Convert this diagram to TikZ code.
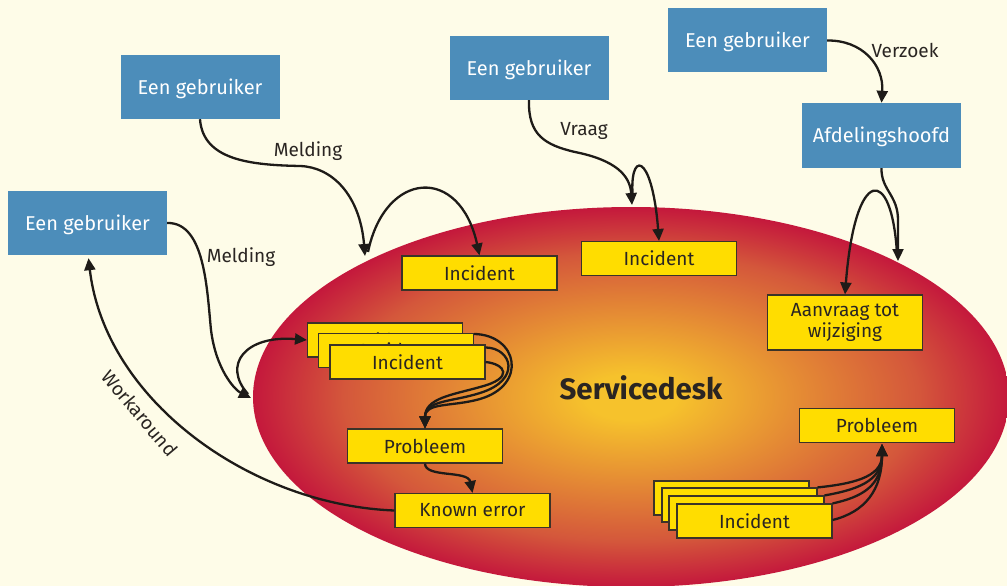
\documentclass[tikz,border=0pt]{standalone}
\usepackage{fontspec}
\setmainfont{Fira Sans}
\usetikzlibrary{arrows.meta,calc}
\definecolor{bgc}{HTML}{FEFCE8}
\definecolor{bluec}{HTML}{4C8DBA}
\definecolor{yelc}{HTML}{FFDD00}
\definecolor{ybord}{HTML}{3B3328}
\definecolor{arrc}{HTML}{1E1B18}
\definecolor{txtc}{HTML}{2A2522}
\definecolor{cIn}{HTML}{F6C22C}
\definecolor{cMidA}{HTML}{E58C34}
\definecolor{cMidB}{HTML}{D4573B}
\definecolor{cOut}{HTML}{C4183C}
\pgfdeclareradialshading{sdesk}{\pgfpoint{0bp}{0bp}}{color(0bp)=(cIn); color(3bp)=(cIn); color(11bp)=(cMidA); color(19bp)=(cMidB); color(25bp)=(cOut); color(50bp)=(cOut)}
\tikzset{
  txt/.style={font=\fontsize{19}{21}\selectfont, text=txtc},
  userbox/.style={fill=bluec, text=white, font=\fontsize{20}{22}\selectfont, minimum width=159pt, minimum height=64pt, inner sep=0pt, text depth=1pt},
  ybox/.style={fill=yelc, draw=ybord, line width=1.1pt, text=txtc, font=\fontsize{19}{21}\selectfont, minimum width=155pt, minimum height=34pt, inner sep=0pt},
  conn/.style={draw=arrc, line width=2.3pt, -{Triangle[length=12pt,width=11pt]}},
}
\begin{document}
\begin{tikzpicture}[x=1pt,y=-1pt]
\useasboundingbox (0,0) rectangle (1007,586);
\fill[bgc] (0,0) rectangle (1007,586);
\begin{scope}
\clip (0,0) rectangle (1007,586);
\shade[shading=sdesk] (631,397) ellipse [x radius=378, y radius=190];
\end{scope}
\node[font=\bfseries\fontsize{29.5}{31}\selectfont, text=txtc] (sd) at (641,388) {Servicedesk};

% user boxes
\node[userbox] (u1) at (200,87) {Een gebruiker};
\node[userbox] (u2) at (87.5,223) {Een gebruiker};
\node[userbox] (u3) at (529,68) {Een gebruiker};
\node[userbox] (u4) at (747.5,40.5) {Een gebruiker};
\node[userbox, minimum height=65pt] (ah) at (881.5,135.5) {Afdelingshoofd};

% yellow boxes
\node[ybox] (i1) at (479.5,273) {Incident};
\node[ybox] (i2) at (659,258.5) {Incident};
\node[ybox, minimum height=55pt, align=center] (av) at (845,322.5) {Aanvraag tot\\wijziging};
\node[ybox] (sa) at (385,340) {Incident};
\node[ybox] (sb) at (396,350.5) {Incident};
\node[ybox] (sc) at (407.5,362) {Incident};
\node[ybox] (pl) at (425,446) {Probleem};
\node[ybox] (ke) at (472.5,510.5) {Known error};
\node[ybox] (pr) at (877,425.5) {Probleem};
\node[ybox] (r1) at (731.5,498) {};
\node[ybox] (r2) at (739.5,505) {};
\node[ybox] (r3) at (746.5,513) {};
\node[ybox] (r4) at (754.5,521) {Incident};

% free ends
\coordinate (tipA) at (365,256);
\coordinate (loopA) at (368,252);
\coordinate (tipB) at (632,205);
\coordinate (loopB) at (633,200);
\coordinate (tipC) at (898,261);
\coordinate (loopC) at (897,254);
\coordinate (tipD) at (251,398);
\coordinate (loopD) at (248,394);
\coordinate (prt) at ($(pr.south)+(5,1)$);

% connectors
\draw[conn] (u1.south) .. controls (203,160) and (250,165) .. (300,166) .. controls (332,167) and (360,195) .. (tipA);
\draw[conn] (loopA) .. controls (385,170) and (460,165) .. (i1.north);
\draw[conn] (u3.south) .. controls (528,135) and (545,145) .. (575,152) .. controls (615,160) and (630,175) .. (tipB);
\draw[conn] (loopB) .. controls (628,150) and (652,150) .. (i2.north);
\draw[conn] (u4.east) .. controls (862,40) and (884,65) .. (ah.north);
\draw[conn] (ah.south) .. controls (881,190) and (898,195) .. (898,220) -- (tipC);
\draw[conn] (loopC) .. controls (892,165) and (855,165) .. (av.north);
\draw[conn] (u2.east) .. controls (205,222) and (207,290) .. (211,330) .. controls (216,370) and (235,390) .. (tipD);
\draw[conn] (loopD) .. controls (222,365) and (245,335) .. (sa.west);

\draw[conn] ($(sb.north east)+(0,1)$) .. controls (518,335) and (528,385) .. (480,399) .. controls (452,407) and (425,402) .. (pl.north);
\draw[conn] ($(sc.north east)+(0,3)$) .. controls (512,348) and (522,380) .. (480,393) .. controls (452,402) and (425,400) .. (pl.north);
\draw[conn] (sc.east) .. controls (505,364) and (515,378) .. (480,387) .. controls (452,395) and (425,398) .. (pl.north);

\draw[conn] (pl.south) .. controls (425,478) and (468,470) .. (ke.north);
\draw[conn] (ke.west) .. controls (250,505) and (105,400) .. ($(u2.south)+(1,3)$);

\draw[conn] (r2.north east) .. controls (850,484) and (882,478) .. (prt);
\draw[conn] (r3.north east) .. controls (855,490) and (882,482) .. (prt);
\draw[conn] (r4.north east) .. controls (862,497) and (882,486) .. (prt);
\draw[conn] ($(r4.east)+(0,-1)$) .. controls (865,512) and (882,490) .. (prt);

% labels
\node[txt] (lm1) at (308,151) {Melding};
\node[txt] (lm2) at (241,257) {Melding};
\node[txt] (lv) at (584,131) {Vraag};
\node[txt] (lz) at (905,50) {Verzoek};
\node[txt, rotate=-50] (lw) at (140,413) {Workaround};
\end{tikzpicture}
\end{document}
